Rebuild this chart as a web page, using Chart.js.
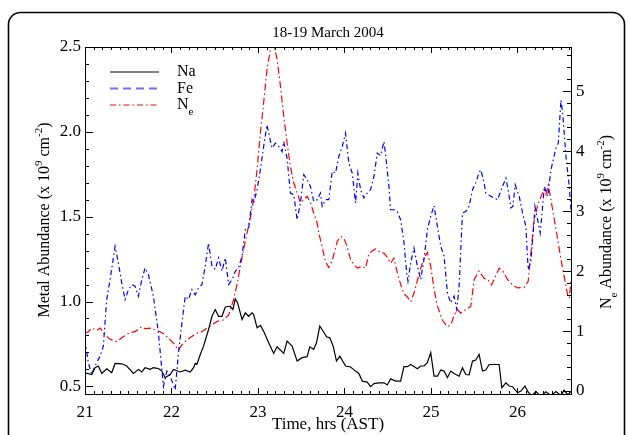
<!DOCTYPE html>
<html>
<head>
<meta charset="utf-8">
<script src="https://cdn.jsdelivr.net/npm/chart.js@4.4.1/dist/chart.umd.min.js"></script>
<style>
  html, body { margin: 0; padding: 0; background: #fff; }
  canvas { display: block; }
</style>
</head>
<body>
<canvas id="chart" width="629" height="435"></canvas>
<script>
// tick labels
const timeTicks = [21, 22, 23, 24, 25, 26];
const metalTicks = [0.5, 1.0, 1.5, 2.0, 2.5];
const neTicks = [0, 1, 2, 3, 4, 5];

// Na, x 10^9 cm^-2
const naTime = [21.000, 21.078, 21.116, 21.154, 21.194, 21.251, 21.309, 21.348, 21.425, 21.483,
  21.560, 21.618, 21.657, 21.695, 21.753, 21.791, 21.849, 21.889, 21.927, 21.985,
  22.023, 22.101, 22.159, 22.217, 22.255, 22.275, 22.294, 22.333, 22.371, 22.429,
  22.468, 22.506, 22.545, 22.584, 22.622, 22.680, 22.711, 22.738, 22.765, 22.816,
  22.854, 22.892, 22.932, 22.950, 22.990, 23.028, 23.066, 23.124, 23.182, 23.221,
  23.298, 23.337, 23.395, 23.453, 23.511, 23.569, 23.599, 23.645, 23.677, 23.715,
  23.754, 23.793, 23.831, 23.870, 23.908, 23.947, 24.013, 24.071, 24.129, 24.167,
  24.206, 24.264, 24.302, 24.341, 24.399, 24.457, 24.496, 24.534, 24.592, 24.650,
  24.688, 24.728, 24.766, 24.844, 24.882, 24.920, 24.959, 24.998, 25.036, 25.075,
  25.114, 25.152, 25.191, 25.229, 25.268, 25.326, 25.365, 25.403, 25.442, 25.481,
  25.519, 25.557, 25.597, 25.635, 25.673, 25.713, 25.789, 25.820, 25.867, 25.905,
  25.944, 26.002, 26.041, 26.087, 26.125, 26.168, 26.214, 26.272, 26.330, 26.388,
  26.446, 26.504, 26.539, 26.585, 26.620];
const naValue = [0.58, 0.57, 0.61, 0.62, 0.576, 0.604, 0.58, 0.635, 0.633, 0.62,
  0.576, 0.60, 0.585, 0.61, 0.60, 0.61, 0.605, 0.59, 0.551, 0.57,
  0.60, 0.585, 0.596, 0.585, 0.61, 0.635, 0.63, 0.688, 0.737, 0.835,
  0.913, 0.953, 0.913, 0.913, 0.968, 0.972, 0.953, 1.016, 0.992, 0.894,
  0.933, 0.913, 0.933, 0.924, 0.845, 0.859, 0.825, 0.757, 0.694, 0.733,
  0.694, 0.767, 0.737, 0.649, 0.669, 0.675, 0.733, 0.718, 0.757, 0.855,
  0.825, 0.792, 0.786, 0.737, 0.649, 0.678, 0.62, 0.614, 0.59, 0.576,
  0.531, 0.525, 0.498, 0.516, 0.521, 0.521, 0.508, 0.545, 0.531, 0.531,
  0.616, 0.616, 0.629, 0.604, 0.62, 0.62, 0.64, 0.699, 0.56, 0.56,
  0.596, 0.59, 0.551, 0.59, 0.576, 0.56, 0.61, 0.57, 0.568, 0.649,
  0.655, 0.688, 0.59, 0.596, 0.629, 0.629, 0.629, 0.492, 0.521, 0.502,
  0.498, 0.462, 0.472, 0.502, 0.466, 0.445, 0.47, 0.44, 0.468, 0.445,
  0.47, 0.445, 0.478, 0.45, 0.47];

// Fe, x 10^9 cm^-2
const feTime = [21.000, 21.038, 21.078, 21.116, 21.174, 21.212, 21.251, 21.290, 21.348, 21.386,
  21.425, 21.464, 21.502, 21.541, 21.579, 21.618, 21.657, 21.695, 21.733, 21.791,
  21.849, 21.907, 21.947, 21.985, 22.043, 22.081, 22.121, 22.159, 22.197, 22.236,
  22.275, 22.313, 22.352, 22.390, 22.429, 22.468, 22.506, 22.545, 22.584, 22.622,
  22.661, 22.700, 22.738, 22.776, 22.816, 22.854, 22.892, 22.932, 22.950, 22.990,
  23.028, 23.066, 23.105, 23.124, 23.163, 23.202, 23.240, 23.279, 23.298, 23.337,
  23.375, 23.414, 23.453, 23.491, 23.530, 23.569, 23.607, 23.645, 23.685, 23.723,
  23.743, 23.781, 23.819, 23.859, 23.897, 23.935, 23.975, 24.013, 24.051, 24.090,
  24.129, 24.155, 24.187, 24.225, 24.264, 24.303, 24.341, 24.380, 24.418, 24.457,
  24.476, 24.515, 24.534, 24.572, 24.612, 24.650, 24.688, 24.720, 24.735, 24.766,
  24.804, 24.844, 24.882, 24.920, 24.959, 24.998, 25.036, 25.075, 25.114, 25.152,
  25.191, 25.229, 25.268, 25.299, 25.326, 25.365, 25.403, 25.442, 25.481, 25.519,
  25.557, 25.577, 25.615, 25.635, 25.693, 25.771, 25.828, 25.867, 25.896, 25.925,
  25.948, 25.975, 26.021, 26.060, 26.098, 26.125, 26.156, 26.188, 26.203, 26.234,
  26.264, 26.292, 26.311, 26.350, 26.388, 26.446, 26.473, 26.504, 26.524, 26.562,
  26.600, 26.620];
const feValue = [0.776, 0.64, 0.571, 0.62, 0.678, 0.737, 1.012, 1.129, 1.325, 1.227,
  1.11, 1.012, 1.07, 1.10, 1.09, 1.031, 1.129, 1.198, 1.159, 1.031,
  0.816, 0.50, 0.59, 0.56, 0.48, 0.698, 0.874, 1.031, 1.012, 1.07,
  1.04, 1.08, 1.10, 1.208, 1.345, 1.208, 1.19, 1.257, 1.18, 1.257,
  1.10, 1.13, 1.178, 1.20, 1.267, 1.424, 1.433, 1.60, 1.58, 1.659,
  1.776, 1.914, 2.041, 1.992, 1.904, 1.933, 1.914, 1.884, 1.943, 1.845,
  1.639, 1.63, 1.482, 1.58, 1.747, 1.718, 1.678, 1.59, 1.60, 1.639,
  1.561, 1.60, 1.60, 1.767, 1.757, 1.855, 1.914, 1.992, 1.816, 1.757,
  1.58, 1.757, 1.659, 1.61, 1.639, 1.66, 1.737, 1.875, 1.86, 1.943,
  1.866, 1.678, 1.541, 1.541, 1.53, 1.482, 1.35, 1.169, 1.12, 1.227,
  1.316, 1.208, 1.129, 1.247, 1.424, 1.502, 1.565, 1.443, 1.325, 1.267,
  1.051, 0.992, 1.031, 0.953, 1.09, 1.522, 1.531, 1.561, 1.659, 1.70,
  1.76, 1.776, 1.70, 1.639, 1.62, 1.60, 1.678, 1.727, 1.65, 1.551,
  1.56, 1.688, 1.62, 1.522, 1.443, 1.188, 1.237, 1.443, 1.561, 1.482,
  1.404, 1.561, 1.678, 1.62, 1.776, 1.904, 1.933, 2.188, 2.11, 1.855,
  1.678, 1.541];

// Ne, x 10^9 cm^-2 (right axis)
const neTime = [21.000, 21.038, 21.078, 21.136, 21.174, 21.232, 21.290, 21.367, 21.444, 21.521,
  21.579, 21.657, 21.695, 21.753, 21.811, 21.869, 21.927, 21.965, 22.023, 22.081,
  22.121, 22.178, 22.236, 22.294, 22.352, 22.410, 22.468, 22.526, 22.603, 22.661,
  22.718, 22.758, 22.796, 22.834, 22.874, 22.912, 22.950, 22.990, 23.028, 23.066,
  23.105, 23.144, 23.163, 23.182, 23.221, 23.260, 23.298, 23.337, 23.375, 23.414,
  23.453, 23.491, 23.530, 23.569, 23.607, 23.645, 23.685, 23.703, 23.743, 23.781,
  23.819, 23.859, 23.916, 23.955, 23.993, 24.032, 24.071, 24.109, 24.148, 24.206,
  24.244, 24.283, 24.322, 24.360, 24.418, 24.457, 24.496, 24.534, 24.572, 24.612,
  24.650, 24.688, 24.728, 24.766, 24.804, 24.844, 24.882, 24.920, 24.959, 24.998,
  25.036, 25.075, 25.133, 25.191, 25.229, 25.268, 25.307, 25.345, 25.403, 25.461,
  25.500, 25.557, 25.615, 25.658, 25.701, 25.731, 25.789, 25.832, 25.886, 25.944,
  26.002, 26.079, 26.125, 26.156, 26.188, 26.234, 26.272, 26.311, 26.330, 26.357,
  26.388, 26.427, 26.466, 26.504, 26.542, 26.581, 26.602, 26.620];
const neValue = [0.965, 0.99, 1.05, 1.01, 1.05, 0.936, 0.864, 0.825, 0.908, 0.975,
  0.99, 1.075, 1.04, 1.048, 1.02, 0.99, 0.936, 0.88, 0.797, 0.686,
  0.77, 0.853, 0.908, 0.965, 0.99, 1.05, 1.104, 1.16, 1.187, 1.27,
  1.522, 1.773, 2.08, 2.36, 2.637, 2.89, 3.18, 3.70, 4.31, 4.81,
  5.37, 5.70, 5.80, 5.79, 5.54, 5.09, 4.59, 4.14, 3.75, 3.47,
  3.31, 3.14, 3.19, 3.25, 3.14, 2.97, 2.80, 2.64, 2.40, 2.16,
  2.06, 2.18, 2.49, 2.58, 2.55, 2.41, 2.19, 2.11, 2.05, 2.08,
  2.05, 2.29, 2.34, 2.37, 2.31, 2.30, 2.23, 2.13, 2.22, 1.97,
  1.78, 1.62, 1.57, 1.49, 1.63, 1.85, 2.05, 2.22, 2.31, 2.08,
  1.70, 1.42, 1.18, 1.075, 1.10, 1.26, 1.36, 1.30, 1.36, 1.41,
  1.86, 2.0, 1.88, 1.86, 1.77, 1.86, 2.05, 2.0, 1.86, 1.77,
  1.72, 1.73, 1.83, 2.30, 2.80, 3.10, 3.24, 3.36, 3.28, 3.44,
  3.19, 2.86, 2.53, 2.19, 1.91, 1.60, 1.55, 1.86];

const pairs = (xs, ys) => xs.map((x, i) => ({x: x, y: ys[i]}));

const SERIF = '"Liberation Serif", "DejaVu Serif", serif';

// draws a string made of normal / superscript / subscript pieces
function richText(ctx, parts, x, y, size, align) {
    const small = Math.round(size * 0.66);
    let total = 0;
    parts.forEach(p => {
        ctx.font = (p.s ? small : size) + 'px ' + SERIF;
        total += ctx.measureText(p.t).width;
    });
    let cx = align === 'center' ? x - total / 2 : x;
    ctx.textAlign = 'left';
    ctx.textBaseline = 'middle';
    parts.forEach(p => {
        ctx.font = (p.s ? small : size) + 'px ' + SERIF;
        const dy = p.s === 'sup' ? -size * 0.36 : (p.s === 'sub' ? size * 0.42 : 0);
        ctx.fillText(p.t, cx, y + dy);
        cx += ctx.measureText(p.t).width;
    });
}

const decorations = {
    id: 'decorations',
    afterDraw(chart) {
        const ctx = chart.ctx;
        const a = chart.chartArea;
        const sx = chart.scales.x, sy = chart.scales.y, sy2 = chart.scales.y2;
        ctx.save();

        // outer rounded frame
        ctx.strokeStyle = '#000';
        ctx.lineWidth = 1.6;
        ctx.beginPath();
        ctx.roundRect(8.5, 12.5, 616, 460, 12);
        ctx.stroke();

        // axis box
        ctx.lineWidth = 1;
        ctx.strokeRect(Math.round(a.left) + 0.5, Math.round(a.top) + 0.5,
            Math.round(a.right - a.left), Math.round(a.bottom - a.top));

        // tick marks, pointing inward
        ctx.beginPath();
        for (let i = 0; i <= 56; i++) {
            const v = 21 + i * 0.1;
            const px = Math.round(sx.getPixelForValue(v)) + 0.5;
            const len = i % 10 === 0 ? 6 : 3;
            ctx.moveTo(px, a.bottom); ctx.lineTo(px, a.bottom - len);
            ctx.moveTo(px, a.top); ctx.lineTo(px, a.top + len);
        }
        for (let i = 0; i <= 20; i++) {
            const v = 0.5 + i * 0.1;
            const py = Math.round(sy.getPixelForValue(v)) + 0.5;
            const len = i % 5 === 0 ? 8 : 4;
            ctx.moveTo(a.left, py); ctx.lineTo(a.left + len, py);
        }
        for (let i = 0; i <= 28; i++) {
            const v = i * 0.2;
            const py = Math.round(sy2.getPixelForValue(v)) + 0.5;
            const len = i % 5 === 0 ? 8 : 4;
            ctx.moveTo(a.right, py); ctx.lineTo(a.right - len, py);
        }
        ctx.stroke();

        ctx.fillStyle = '#000';
        // title
        richText(ctx, [{t: '18-19 March 2004'}], (a.left + a.right) / 2, 33, 15, 'center');
        // x title
        richText(ctx, [{t: 'Time, hrs (AST)'}], (a.left + a.right) / 2, 425, 17, 'center');

        // left y title
        ctx.save();
        ctx.translate(45, 220);
        ctx.rotate(-Math.PI / 2);
        richText(ctx, [{t: 'Metal Abundance (x 10'}, {t: '9', s: 'sup'}, {t: ' cm'},
            {t: '-2', s: 'sup'}, {t: ')'}], 0, 0, 16, 'center');
        ctx.restore();

        // right y title
        ctx.save();
        ctx.translate(607, 222);
        ctx.rotate(-Math.PI / 2);
        richText(ctx, [{t: 'N'}, {t: 'e', s: 'sub'}, {t: ' Abundance (x 10'}, {t: '9', s: 'sup'},
            {t: ' cm'}, {t: '-2', s: 'sup'}, {t: ')'}], 0, 0, 16, 'center');
        ctx.restore();

        // legend
        const legend = [
            {color: '#000', dash: [], label: [{t: 'Na'}]},
            {color: 'rgb(110,110,255)', dash: [8, 5], label: [{t: 'Fe'}]},
            {color: '#f00', dash: [6, 3, 1.5, 3], label: [{t: 'N'}, {t: 'e', s: 'sub'}]}
        ];
        legend.forEach((item, i) => {
            const y = 72 + i * 16.5;
            ctx.strokeStyle = item.color;
            ctx.lineWidth = i === 1 ? 1.8 : 1.2;
            ctx.setLineDash(item.dash);
            ctx.beginPath();
            ctx.moveTo(110, y); ctx.lineTo(159, y);
            ctx.stroke();
            ctx.setLineDash([]);
            ctx.fillStyle = '#000';
            richText(ctx, item.label, 177, y, 16, 'left');
        });

        ctx.restore();
    }
};

new Chart(document.getElementById('chart'), {
    type: 'scatter',
    data: {
        datasets: [
            {label: 'Na', data: pairs(naTime, naValue), yAxisID: 'y',
                borderColor: '#000', borderWidth: 1.2},
            {label: 'Fe', data: pairs(feTime, feValue), yAxisID: 'y',
                borderColor: '#00f', borderWidth: 1.2, borderDash: [5, 3, 1.5, 3]},
            {label: 'Ne', data: pairs(neTime, neValue), yAxisID: 'y2',
                borderColor: '#f00', borderWidth: 1.2, borderDash: [7, 3, 1.5, 3]}
        ]
    },
    options: {
        responsive: false,
        animation: false,
        devicePixelRatio: 1,
        showLine: true,
        elements: {
            point: {radius: 0, hoverRadius: 0},
            line: {tension: 0, fill: false}
        },
        layout: {padding: {top: 47, left: 0, right: 0, bottom: 0}},
        plugins: {
            legend: {display: false},
            tooltip: {enabled: false}
        },
        scales: {
            x: {
                type: 'linear',
                min: 21,
                max: 26.62,
                grid: {display: false, drawTicks: false},
                border: {display: false},
                afterFit(scale) { scale.height = 41; },
                afterBuildTicks(scale) { scale.ticks = timeTicks.map(v => ({value: v})); },
                ticks: {
                    padding: 8,
                    color: '#000',
                    font: {family: SERIF, size: 17},
                    maxRotation: 0,
                    autoSkip: false,
                    callback: v => String(v)
                }
            },
            y: {
                type: 'linear',
                position: 'left',
                min: 0.455,
                max: 2.5,
                grid: {display: false, drawTicks: false},
                border: {display: false},
                afterFit(scale) { scale.width = 85; },
                afterBuildTicks(scale) { scale.ticks = metalTicks.map(v => ({value: v})); },
                ticks: {
                    padding: 4,
                    color: '#000',
                    font: {family: SERIF, size: 17},
                    autoSkip: false,
                    callback: v => Number(v).toFixed(1)
                }
            },
            y2: {
                type: 'linear',
                position: 'right',
                min: -0.05,
                max: 5.74,
                grid: {display: false, drawTicks: false},
                border: {display: false},
                afterFit(scale) { scale.width = 58; },
                afterBuildTicks(scale) { scale.ticks = neTicks.map(v => ({value: v})); },
                ticks: {
                    padding: 5,
                    color: '#000',
                    font: {family: SERIF, size: 17},
                    autoSkip: false,
                    callback: v => String(v)
                }
            }
        }
    },
    plugins: [decorations]
});
</script>
</body>
</html>
